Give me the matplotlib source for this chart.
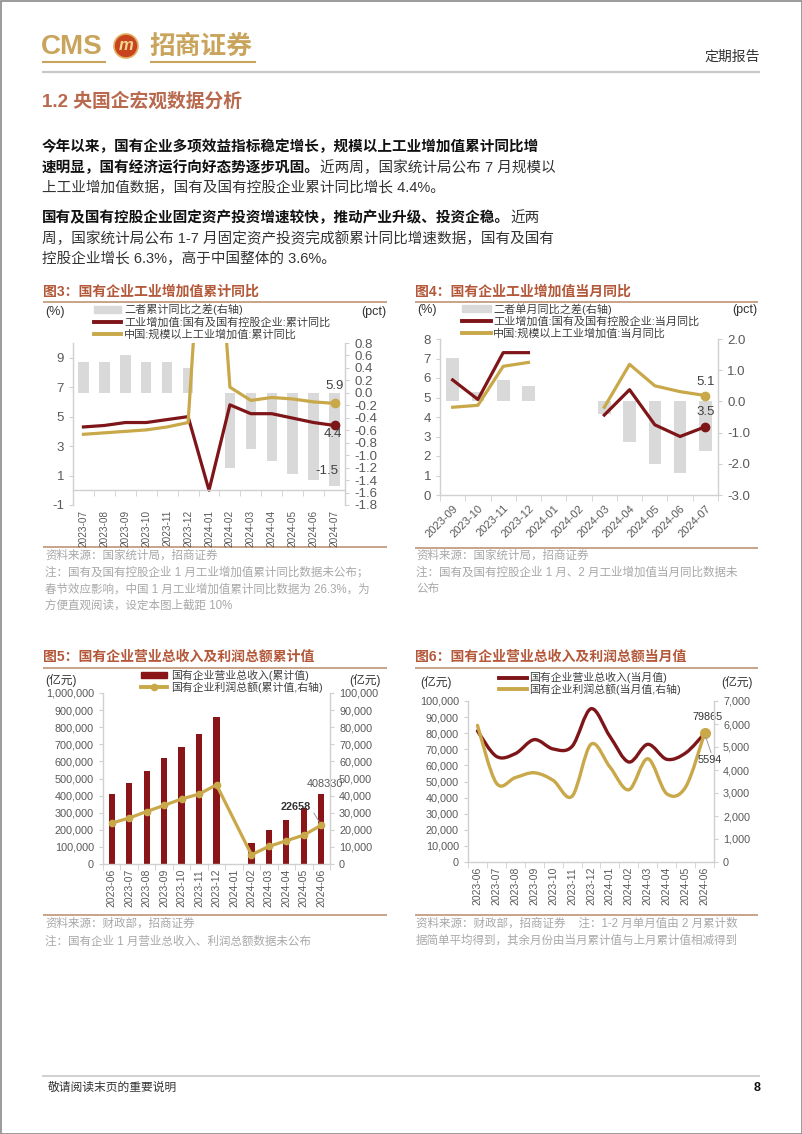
import numpy as np
import matplotlib
matplotlib.use("Agg")
import matplotlib.pyplot as plt
from matplotlib.path import Path
from matplotlib.patches import PathPatch, Circle, Rectangle
from matplotlib.lines import Line2D
from matplotlib.ticker import FuncFormatter, MultipleLocator

W, H = 802, 1134
plt.rcParams["font.family"] = ["Liberation Sans", "Noto Sans CJK SC", "DejaVu Sans"]
plt.rcParams["axes.unicode_minus"] = False

RED = "#7E1518"
GOLD = "#C9A84A"
BAR_GREY = "#D9D9D9"
TICK = "#595959"
SPINE = "#D0D0D0"
TITLE = "#B4583A"
RULE = "#C49C80"
NOTE = "#A8A8A8"
LOGO_GOLD = "#C9A45C"

# ---- chart 3: cumulative yoy of industrial value added
months3 = ["2023-07", "2023-08", "2023-09", "2023-10", "2023-11", "2023-12", "2024-01",
           "2024-02", "2024-03", "2024-04", "2024-05", "2024-06", "2024-07"]
soe_cum = [4.3, 4.4, 4.6, 4.6, 4.8, 5.0, 0.0, 5.8, 5.2, 5.2, 4.9, 4.6, 4.4]
china_cum = [3.8, 3.9, 4.0, 4.1, 4.3, 4.6, 26.3, 7.0, 6.1, 6.3, 6.2, 6.0, 5.9]
diff_cum = [0.5, 0.5, 0.6, 0.5, 0.5, 0.4, np.nan, -1.2, -0.9, -1.1, -1.3, -1.4, -1.5]

# ---- chart 4: monthly yoy
months4 = ["2023-09", "2023-10", "2023-11", "2023-12", "2024-01", "2024-02",
           "2024-03", "2024-04", "2024-05", "2024-06", "2024-07"]
soe_mon = [5.9, 4.9, 7.3, 7.3, np.nan, np.nan, 4.1, 5.4, 3.6, 3.0, 3.5]
china_mon = [4.5, 4.6, 6.6, 6.8, np.nan, np.nan, 4.5, 6.7, 5.6, 5.3, 5.1]
diff_mon = [1.4, 0.3, 0.7, 0.5, np.nan, np.nan, -0.4, -1.3, -2.0, -2.3, -1.6]

# ---- chart 5: cumulative revenue / profit (亿元)
months5 = ["2023-06", "2023-07", "2023-08", "2023-09", "2023-10", "2023-11", "2023-12",
           "2024-01", "2024-02", "2024-03", "2024-04", "2024-05", "2024-06"]
revenue_cum = [407000, 476000, 544000, 621000, 687000, 761000, 857306,
               np.nan, 123000, 198000, 260000, 326000, 408330]
profit_cum = [23900, 26900, 30700, 34300, 38000, 40900, 46300,
              np.nan, 5400, 10300, 13600, 16900, 22658]

# ---- chart 6: monthly revenue / profit (亿元)
months6 = months5
revenue_mon = [81400, 65600, 67300, 76000, 70200, 71800, 95200,
               78000, 62100, 73100, 63800, 67700, 79865]
profit_mon = [5940, 3430, 3670, 3880, 3550, 2860, 5120,
              4130, 3140, 4490, 2970, 3260, 5594]

fig = plt.figure(figsize=(W / 100, H / 100), dpi=100)
page = fig.add_axes([0, 0, 1, 1])
page.set_xlim(0, W)
page.set_ylim(H, 0)
page.axis("off")


def px_axes(x0, y0, x1, y1):
    return fig.add_axes([x0 / W, 1 - y1 / H, (x1 - x0) / W, (y1 - y0) / H])


def style(ax, ax2, labels, rot, lsize, ysize):
    n = len(labels)
    ax.set_xlim(-0.5, n - 0.5)
    ax.spines["top"].set_visible(False)
    ax.spines["right"].set_visible(False)
    ax2.spines["top"].set_visible(False)
    ax2.spines["left"].set_visible(False)
    ax2.spines["bottom"].set_visible(False)
    for sp in (ax.spines["left"], ax.spines["bottom"], ax2.spines["right"]):
        sp.set_color(SPINE)
        sp.set_linewidth(1.0)
    ax.set_xticks(range(n))
    ax.set_xticks(np.arange(-0.5, n), minor=True)
    ax.tick_params(axis="x", which="major", length=0, labelsize=lsize, labelcolor=TICK)
    ax.tick_params(axis="x", which="minor", length=4, color=SPINE)
    if rot == 90:
        ax.set_xticklabels(labels, rotation=90, va="top", ha="center")
    else:
        ax.set_xticklabels(labels, rotation=rot, ha="right", va="top", rotation_mode="anchor")
    ax.tick_params(axis="y", length=3, color=SPINE, labelsize=ysize, labelcolor=TICK)
    ax2.tick_params(axis="y", length=3, color=SPINE, labelsize=ysize, labelcolor=TICK)


def smooth_line(ax, xs, ys, color, lw):
    pts = np.column_stack([xs, ys]).astype(float)
    n = len(pts)
    verts = [pts[0]]
    codes = [Path.MOVETO]
    for i in range(n - 1):
        p0 = pts[max(i - 1, 0)]
        p1 = pts[i]
        p2 = pts[i + 1]
        p3 = pts[min(i + 2, n - 1)]
        verts += [p1 + (p2 - p0) / 6, p2 - (p3 - p1) / 6, p2]
        codes += [Path.CURVE4] * 3
    patch = PathPatch(Path(verts, codes), fill=False, edgecolor=color, lw=lw,
                      capstyle="round", joinstyle="round")
    ax.add_patch(patch)
    return patch


def rule(x0, x1, y, color=RULE, lw=1.3):
    page.plot([x0, x1], [y, y], color=color, lw=lw, solid_capstyle="butt")


comma = FuncFormatter(lambda v, p: f"{v:,.0f}")
one_dec = FuncFormatter(lambda v, p: f"{v:.1f}")

# ================= header =================
page.add_patch(Rectangle((0.5, 0.5), W - 1, H - 1, fill=False, edgecolor="#8A8A8A", lw=1.2))
page.text(41, 47, "CMS", fontsize=20, fontweight="bold", color=LOGO_GOLD, va="center", ha="left")
page.add_patch(Circle((126, 46), 12, facecolor="#C8441E", edgecolor="#E0B060", lw=1.2))
page.text(126, 46, "m", fontsize=12, fontweight="bold", fontstyle="italic", color="#F5D890",
          ha="center", va="center")
page.text(149, 47, "招商证券", fontsize=18.5, fontweight="bold", color=LOGO_GOLD,
          va="center", ha="left")
rule(42, 106, 62, LOGO_GOLD, 1.5)
rule(150, 256, 62, LOGO_GOLD, 1.5)
page.text(760, 57, "定期报告", fontsize=10, color="#333333", ha="right", va="center")
rule(42, 760, 72, "#C8C8C8", 1.6)

page.text(42, 101, "1.2 央国企宏观数据分析", fontsize=13.5, fontweight="bold", color="#B8694E",
          va="center", ha="left")

body = 10.5
def para_line(y, bold, regular=""):
    t = page.text(42, y, bold, fontsize=body, fontweight="bold", color="#111111",
                  va="center", ha="left")
    if regular:
        page.annotate(regular, xy=(1, 0), xycoords=t, va="bottom", ha="left",
                      fontsize=body, color="#333333")

para_line(147, "今年以来，国有企业多项效益指标稳定增长，规模以上工业增加值累计同比增")
para_line(167.5, "速明显，国有经济运行向好态势逐步巩固。", "近两周，国家统计局公布 7 月规模以")
page.text(42, 188, "上工业增加值数据，国有及国有控股企业累计同比增长 4.4%。", fontsize=body,
          color="#333333", va="center")
para_line(218, "国有及国有控股企业固定资产投资增速较快，推动产业升级、投资企稳。", "近两")
page.text(42, 238.5, "周，国家统计局公布 1-7 月固定资产投资完成额累计同比增速数据，国有及国有",
          fontsize=body, color="#333333", va="center")
page.text(42, 259, "控股企业增长 6.3%，高于中国整体的 3.6%。", fontsize=body, color="#333333",
          va="center")

# ================= chart titles / rules / notes =================
ttl = 10
page.text(43, 292, "图3：国有企业工业增加值累计同比", fontsize=ttl, fontweight="bold", color=TITLE, va="center")
page.text(415, 292, "图4：国有企业工业增加值当月同比", fontsize=ttl, fontweight="bold", color=TITLE, va="center")
page.text(43, 657, "图5：国有企业营业总收入及利润总额累计值", fontsize=ttl, fontweight="bold", color=TITLE, va="center")
page.text(415, 657, "图6：国有企业营业总收入及利润总额当月值", fontsize=ttl, fontweight="bold", color=TITLE, va="center")
rule(43, 387, 302)
rule(415, 758, 302)
rule(43, 387, 547)
rule(415, 758, 548)
rule(43, 387, 668)
rule(415, 758, 668)
rule(43, 387, 915)
rule(415, 758, 915)

ns = 8.3
notes3 = ["资料来源：国家统计局，招商证券",
          "注：国有及国有控股企业 1 月工业增加值累计同比数据未公布；",
          "春节效应影响，中国 1 月工业增加值累计同比数据为 26.3%，为",
          "方便直观阅读，设定本图上截距 10%"]
for i, s in enumerate(notes3):
    page.text(45, 556 + 16.7 * i, s, fontsize=ns, color=NOTE, va="center")
notes4 = ["资料来源：国家统计局，招商证券",
          "注：国有及国有控股企业 1 月、2 月工业增加值当月同比数据未",
          "公布"]
for i, s in enumerate(notes4):
    page.text(416, 556 + 16.7 * i, s, fontsize=ns, color=NOTE, va="center")
notes5 = ["资料来源：财政部，招商证券",
          "注：国有企业 1 月营业总收入、利润总额数据未公布"]
for i, s in enumerate(notes5):
    page.text(45, 924 + 17.5 * i, s, fontsize=ns, color=NOTE, va="center")
notes6 = ["资料来源：财政部，招商证券    注：1-2 月单月值由 2 月累计数",
          "据简单平均得到，其余月份由当月累计值与上月累计值相减得到"]
for i, s in enumerate(notes6):
    page.text(416, 924 + 17 * i, s, fontsize=ns, color=NOTE, va="center")

# unit labels
page.text(45, 312, "(%)", fontsize=9, color="#333333", va="center")
page.text(386, 312, "(pct)", fontsize=9, color="#333333", va="center", ha="right")
page.text(417, 310, "(%)", fontsize=9, color="#333333", va="center")
page.text(757, 310, "(pct)", fontsize=9, color="#333333", va="center", ha="right")
page.text(45, 680, "(亿元)", fontsize=8.5, color="#333333", va="center")
page.text(381, 680, "(亿元)", fontsize=8.5, color="#333333", va="center", ha="right")
page.text(420, 682, "(亿元)", fontsize=8.5, color="#333333", va="center")
page.text(753, 682, "(亿元)", fontsize=8.5, color="#333333", va="center", ha="right")

# footer
rule(42, 760, 1076, "#C8C8C8", 1.2)
page.text(48, 1088, "敬请阅读末页的重要说明", fontsize=8.5, color="#333333", va="center")
page.text(760, 1088, "8", fontsize=9, fontweight="bold", color="#111111", va="center", ha="right")

LW = 2.3

# ================= chart 3 =================
ax = px_axes(73, 343, 345, 505)
ax2 = ax.twinx()
ax.spines["bottom"].set_position(("data", 0))
x3 = np.arange(len(months3))
ax2.bar(x3, diff_cum, width=0.5, color=BAR_GREY)
ax.plot(x3, soe_cum, color=RED, lw=LW)
ax.plot(x3, china_cum, color=GOLD, lw=LW)
ax.plot(x3[-1], soe_cum[-1], "o", color=RED, ms=6)
ax.plot(x3[-1], china_cum[-1], "o", color=GOLD, ms=6)
ax.set_zorder(ax2.get_zorder() + 1)
ax.patch.set_visible(False)
ax.set_ylim(-1, 10)
ax.set_yticks([-1, 1, 3, 5, 7, 9])
ax2.set_ylim(-1.8, 0.8)
ax2.yaxis.set_major_locator(MultipleLocator(0.2))
ax2.yaxis.set_major_formatter(one_dec)
style(ax, ax2, months3, 90, 7.2, 9.5)
ax.tick_params(axis="x", which="major", pad=14)
ax.annotate(f"{china_cum[-1]:.1f}", (x3[-1], china_cum[-1]), xytext=(0, 17),
            textcoords="offset pixels", ha="center", va="center", fontsize=9.5, color="#404040")
ax.annotate(f"{soe_cum[-1]:.1f}", (x3[-1], soe_cum[-1]), xytext=(-2, -9),
            textcoords="offset pixels", ha="center", va="center", fontsize=9.5, color="#404040")
ax2.annotate(f"{diff_cum[-1]:.1f}", (x3[-1], diff_cum[-1]), xytext=(-8, 15),
             textcoords="offset pixels", ha="center", va="center", fontsize=9.5, color="#404040")
h3 = [Rectangle((0, 0), 1, 1, color=BAR_GREY), Line2D([], [], color=RED, lw=2.8),
      Line2D([], [], color=GOLD, lw=2.8)]
l3 = ["二者累计同比之差(右轴)", "工业增加值:国有及国有控股企业:累计同比", "中国:规模以上工业增加值:累计同比"]
ax.legend(h3, l3, loc="upper left", bbox_to_anchor=(94, 304), bbox_transform=page.transData,
          frameon=False, fontsize=8, borderpad=0, borderaxespad=0, handletextpad=0.3,
          handlelength=2.4, handleheight=0.6, labelspacing=0.15, labelcolor="#404040")

# ================= chart 4 =================
ax = px_axes(440, 339, 718, 495)
ax2 = ax.twinx()
x4 = np.arange(len(months4))
ax2.bar(x4, diff_mon, width=0.5, color=BAR_GREY)
ax.plot(x4, soe_mon, color=RED, lw=LW)
ax.plot(x4, china_mon, color=GOLD, lw=LW)
ax.plot(x4[-1], soe_mon[-1], "o", color=RED, ms=6)
ax.plot(x4[-1], china_mon[-1], "o", color=GOLD, ms=6)
ax.set_zorder(ax2.get_zorder() + 1)
ax.patch.set_visible(False)
ax.set_ylim(0, 8)
ax.yaxis.set_major_locator(MultipleLocator(1))
ax2.set_ylim(-3, 2)
ax2.yaxis.set_major_locator(MultipleLocator(1))
ax2.yaxis.set_major_formatter(one_dec)
style(ax, ax2, months4, 45, 8, 9.5)
ax.tick_params(axis="x", which="major", pad=6)
ax.annotate(f"{china_mon[-1]:.1f}", (x4[-1], china_mon[-1]), xytext=(0, 14),
            textcoords="offset pixels", ha="center", va="center", fontsize=9.5, color="#404040")
ax.annotate(f"{soe_mon[-1]:.1f}", (x4[-1], soe_mon[-1]), xytext=(0, 15),
            textcoords="offset pixels", ha="center", va="center", fontsize=9.5, color="#404040")
l4 = ["二者单月同比之差(右轴)", "工业增加值:国有及国有控股企业:当月同比", "中国:规模以上工业增加值:当月同比"]
ax.legend(h3, l4, loc="upper left", bbox_to_anchor=(462, 303), bbox_transform=page.transData,
          frameon=False, fontsize=8, borderpad=0, borderaxespad=0, handletextpad=0.2,
          handlelength=2.6, handleheight=0.6, labelspacing=0.15, labelcolor="#404040")

# ================= chart 5 =================
ax = px_axes(103, 693, 330, 864)
ax2 = ax.twinx()
x5 = np.arange(len(months5))
ax.bar(x5, revenue_cum, width=0.36, color="#8A1518")
pc = np.array(profit_cum, dtype=float)
ok = ~np.isnan(pc)
ax2.plot(x5[ok], pc[ok], color=GOLD, lw=LW, marker="o", ms=4.5)
ax.set_ylim(0, 1000000)
ax.yaxis.set_major_locator(MultipleLocator(100000))
ax.yaxis.set_major_formatter(comma)
ax2.set_ylim(0, 100000)
ax2.yaxis.set_major_locator(MultipleLocator(10000))
ax2.yaxis.set_major_formatter(comma)
style(ax, ax2, months5, 90, 7.5, 7.8)
ax.annotate(f"{revenue_cum[-1]:.0f}", (x5[-1], revenue_cum[-1]), xytext=(4, 10),
            textcoords="offset pixels", ha="center", va="center", fontsize=7.8, color="#595959")
ax2.annotate(f"{profit_cum[-1]:.0f}", (x5[-1], profit_cum[-1]), xytext=(-26, 18),
             textcoords="offset pixels", ha="center", va="center", fontsize=7.8,
             fontweight="bold", color="#333333",
             arrowprops=dict(arrowstyle="-", color="#9A9A9A", lw=0.7, relpos=(1, 0.5),
                             shrinkA=1, shrinkB=3))
h5 = [Rectangle((0, 0), 1, 1, color="#8A1518"),
      Line2D([], [], color=GOLD, lw=2.8, marker="o", ms=4.5)]
l5 = ["国有企业营业总收入(累计值)", "国有企业利润总额(累计值,右轴)"]
ax.legend(h5, l5, loc="upper left", bbox_to_anchor=(141, 670), bbox_transform=page.transData,
          frameon=False, fontsize=7.8, borderpad=0, borderaxespad=0, handletextpad=0.4,
          handlelength=2.4, handleheight=0.45, labelspacing=0.0, labelcolor="#404040")

# ================= chart 6 =================
ax = px_axes(468, 701, 714, 862)
ax2 = ax.twinx()
x6 = np.arange(len(months6))
smooth_line(ax, x6, revenue_mon, RED, 2.4)
smooth_line(ax2, x6, profit_mon, GOLD, 2.4)
ax2.plot(x6[-1], profit_mon[-1], "o", color=GOLD, ms=7)
ax.set_ylim(0, 100000)
ax.yaxis.set_major_locator(MultipleLocator(10000))
ax.yaxis.set_major_formatter(comma)
ax2.set_ylim(0, 7000)
ax2.yaxis.set_major_locator(MultipleLocator(1000))
ax2.yaxis.set_major_formatter(comma)
style(ax, ax2, months6, 90, 7.5, 7.8)
ax.annotate(f"{revenue_mon[-1]:.0f}", (x6[-1], revenue_mon[-1]), xytext=(3, 16),
            textcoords="offset pixels", ha="center", va="center", fontsize=7.8, color="#333333")
ax2.annotate(f"{profit_mon[-1]:.0f}", (x6[-1], profit_mon[-1]), xytext=(5, -27),
             textcoords="offset pixels", ha="center", va="center", fontsize=7.8, color="#333333",
             arrowprops=dict(arrowstyle="-", color="#9A9A9A", lw=0.7, relpos=(0.6, 1),
                             shrinkA=0, shrinkB=3))
h6 = [Line2D([], [], color=RED, lw=2.8), Line2D([], [], color=GOLD, lw=2.8)]
l6 = ["国有企业营业总收入(当月值)", "国有企业利润总额(当月值,右轴)"]
ax.legend(h6, l6, loc="upper left", bbox_to_anchor=(499, 672), bbox_transform=page.transData,
          frameon=False, fontsize=7.8, borderpad=0, borderaxespad=0, handletextpad=0.2,
          handlelength=2.6, handleheight=0.45, labelspacing=0.0, labelcolor="#404040")

fig.savefig("out.png", dpi=100)
